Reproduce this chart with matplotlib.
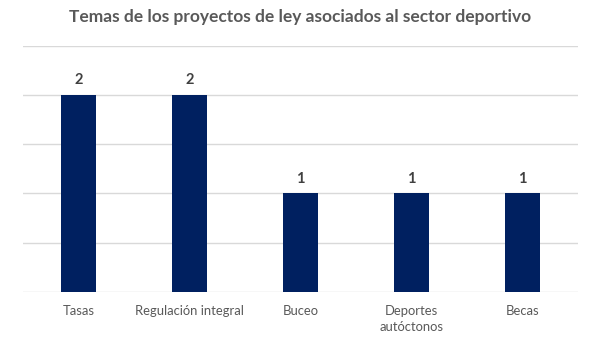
import matplotlib
matplotlib.use("Agg")
import matplotlib.pyplot as plt

categories = ["Tasas", "Regulación integral", "Buceo", "Deportes\nautóctonos", "Becas"]
values = [2, 2, 1, 1, 1]
title = "Temas de los proyectos de ley asociados al sector deportivo"

plt.rcParams['font.family'] = ['Lato', 'DejaVu Sans']

fig = plt.figure(figsize=(6.01, 3.38), dpi=100)
ax = fig.add_axes([23/601, (338-291.7)/338, 555/601, 245.7/338])

x = range(len(categories))
bars = ax.bar(x, values, width=0.315, color="#002060", zorder=3)
for xi, v in zip(x, values):
    ax.text(xi, v + 0.08, str(v), ha="center", va="bottom", fontsize=10.5,
            fontweight="bold", color="#404040")

ax.set_xlim(-0.5, len(categories) - 0.5)
ax.set_ylim(0, 2.5)
ax.set_yticks([0, 0.5, 1, 1.5, 2, 2.5])
ax.yaxis.grid(True, color="#d9d9d9", linewidth=1, zorder=0)
ax.tick_params(axis="y", left=False, labelleft=False)
ax.tick_params(axis="x", bottom=False, pad=6)
ax.set_xticks(list(x))
ax.set_xticklabels(categories, fontsize=9.4, color="#595959", linespacing=1.4)
for s in ax.spines.values():
    s.set_visible(False)

fig.text(0.5, 1 - 17/338, title, ha="center", va="center", fontsize=12.5,
         fontweight="bold", color="#595959")

fig.savefig("out.png", dpi=100)
